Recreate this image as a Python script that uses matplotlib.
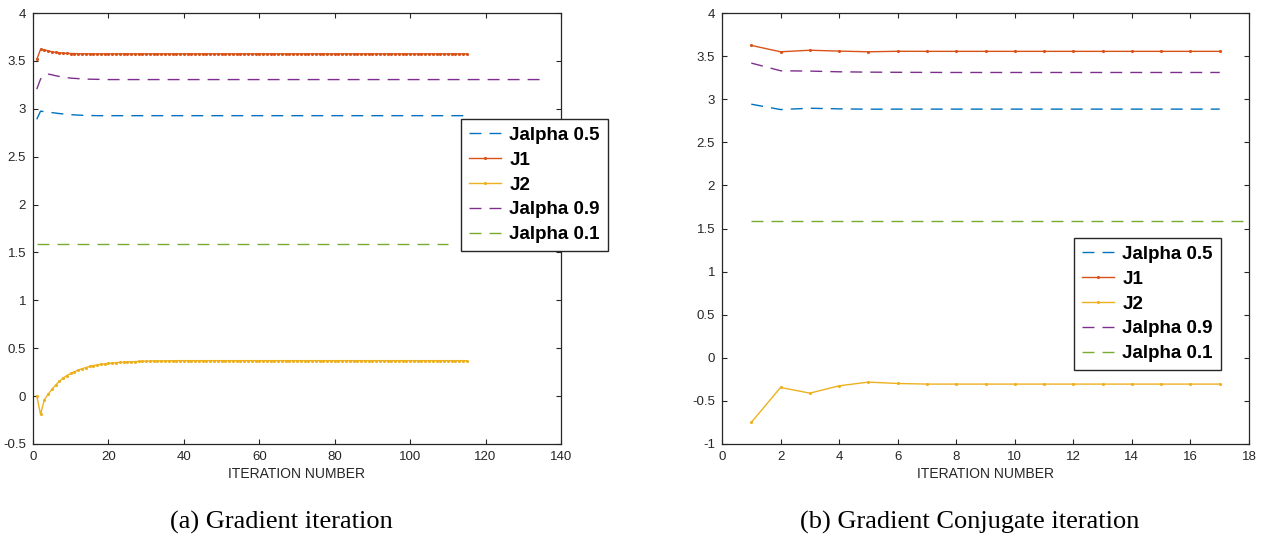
import matplotlib
matplotlib.use('Agg')
import matplotlib.pyplot as plt
import numpy as np
from matplotlib.ticker import MultipleLocator, FormatStrFormatter

plt.rcParams['font.family'] = ['Liberation Sans', 'DejaVu Sans']

# MATLAB default line colours
c_blue, c_red, c_yellow, c_purple, c_green = '#0072BD', '#D95319', '#EDB120', '#7E2F8E', '#77AC30'
axcol = '#262626'

labels = ['Jalpha 0.5', 'J1', 'J2', 'Jalpha 0.9', 'Jalpha 0.1']

# --- gradient iteration ---
j1_a = [3.515, 3.62, 3.615, 3.605, 3.595, 3.589, 3.585, 3.581, 3.579, 3.577,
        3.576, 3.575, 3.574, 3.574]
j1_a = j1_a + [3.573] * (115 - len(j1_a))

j2_a = [0.0, -0.19, -0.04, 0.02, 0.07, 0.115, 0.155, 0.19, 0.215, 0.237,
        0.255, 0.272, 0.286, 0.298, 0.31, 0.318, 0.326, 0.332, 0.337, 0.342,
        0.346, 0.349, 0.352, 0.354, 0.356, 0.358, 0.36, 0.362, 0.364, 0.365,
        0.366, 0.367, 0.367, 0.368, 0.368, 0.369, 0.369, 0.37]
j2_a = j2_a + [0.37] * (115 - len(j2_a))

ja05_a = [2.89, 2.975, 2.97, 2.965, 2.96, 2.955, 2.95, 2.946, 2.942, 2.939,
          2.936, 2.934, 2.932, 2.931, 2.93, 2.929]
ja05_a = ja05_a + [2.928] * (115 - len(ja05_a))

ja09_a = [3.205, 3.31, 3.35, 3.362, 3.355, 3.345, 3.337, 3.33, 3.325, 3.32,
          3.317, 3.314, 3.312, 3.31, 3.309, 3.308, 3.307, 3.306]
ja09_a = ja09_a + [3.305] * (136 - len(ja09_a))

ja01_a = [1.585] * 110

# --- gradient conjugate iteration ---
j1_b = [3.624, 3.55, 3.568, 3.558, 3.55, 3.556, 3.555, 3.555, 3.555, 3.555,
        3.555, 3.555, 3.555, 3.555, 3.555, 3.555, 3.555]
j2_b = [-0.75, -0.344, -0.41, -0.325, -0.282, -0.298, -0.305, -0.305, -0.305,
        -0.305, -0.305, -0.305, -0.305, -0.305, -0.305, -0.305, -0.305]
ja05_b = [2.942, 2.88, 2.895, 2.888, 2.884, 2.885, 2.885, 2.885, 2.885, 2.885,
          2.885, 2.885, 2.885, 2.885, 2.885, 2.885, 2.885]
ja09_b = [3.419, 3.33, 3.326, 3.318, 3.314, 3.312, 3.311, 3.31, 3.31, 3.31,
          3.31, 3.31, 3.31, 3.31, 3.31, 3.31, 3.31]
ja01_b = [1.585] * 18


def it(y):
    return np.arange(1, len(y) + 1)


def draw(ax, ja05, j1, j2, ja09, ja01):
    dash = (8.6, 5.8)
    ax.plot(it(ja05), ja05, color=c_blue, lw=1, ls='--', dashes=dash)
    ax.plot(it(j1), j1, color=c_red, lw=1, marker='.', ms=2.5)
    ax.plot(it(j2), j2, color=c_yellow, lw=1, marker='.', ms=2.5)
    ax.plot(it(ja09), ja09, color=c_purple, lw=1, ls='--', dashes=dash)
    ax.plot(it(ja01), ja01, color=c_green, lw=1, ls='--', dashes=dash)
    for s in ax.spines.values():
        s.set_color(axcol)
        s.set_linewidth(0.9)
    ax.tick_params(which='both', direction='in', top=True, right=True, length=3.8,
                   color=axcol, labelcolor=axcol, labelsize=9.5, pad=5)
    ax.yaxis.set_major_locator(MultipleLocator(0.5))
    ax.yaxis.set_major_formatter(FormatStrFormatter('%g'))
    ax.set_xlabel('ITERATION NUMBER', fontsize=10, color=axcol, labelpad=3)


def legend(ax, x, y):
    fig = ax.figure
    leg = ax.legend(labels, loc='upper left', bbox_to_anchor=(x / 1264, 1 - y / 544),
                    bbox_transform=fig.transFigure, borderaxespad=0, fancybox=False,
                    framealpha=1, edgecolor=axcol, handlelength=1.72, handletextpad=0.43,
                    borderpad=0.42, labelspacing=0.41, prop={'weight': 'bold', 'size': 13.5})
    leg.get_frame().set_linewidth(1.0)
    leg.set_zorder(10)


fig = plt.figure(figsize=(12.64, 5.44), dpi=100)

ax1 = fig.add_axes([33 / 1264, 1 - 444 / 544, 528 / 1264, 431 / 544])
draw(ax1, ja05_a, j1_a, j2_a, ja09_a, ja01_a)
ax1.set_xlim(0, 140)
ax1.set_ylim(-0.5, 4)
ax1.xaxis.set_major_locator(MultipleLocator(20))
legend(ax1, 461, 119)

ax2 = fig.add_axes([722 / 1264, 1 - 444 / 544, 527 / 1264, 431 / 544])
draw(ax2, ja05_b, j1_b, j2_b, ja09_b, ja01_b)
ax2.set_xlim(0, 18)
ax2.set_ylim(-1, 4)
ax2.xaxis.set_major_locator(MultipleLocator(2))
legend(ax2, 1074, 238)

fig.text(281 / 1264, 1 - 522 / 544, '(a) Gradient iteration', ha='center', va='center',
         family='Liberation Serif', fontsize=19)
fig.text(970 / 1264, 1 - 522 / 544, '(b) Gradient Conjugate iteration', ha='center',
         va='center', family='Liberation Serif', fontsize=19)

plt.savefig('out.png', dpi=100)
